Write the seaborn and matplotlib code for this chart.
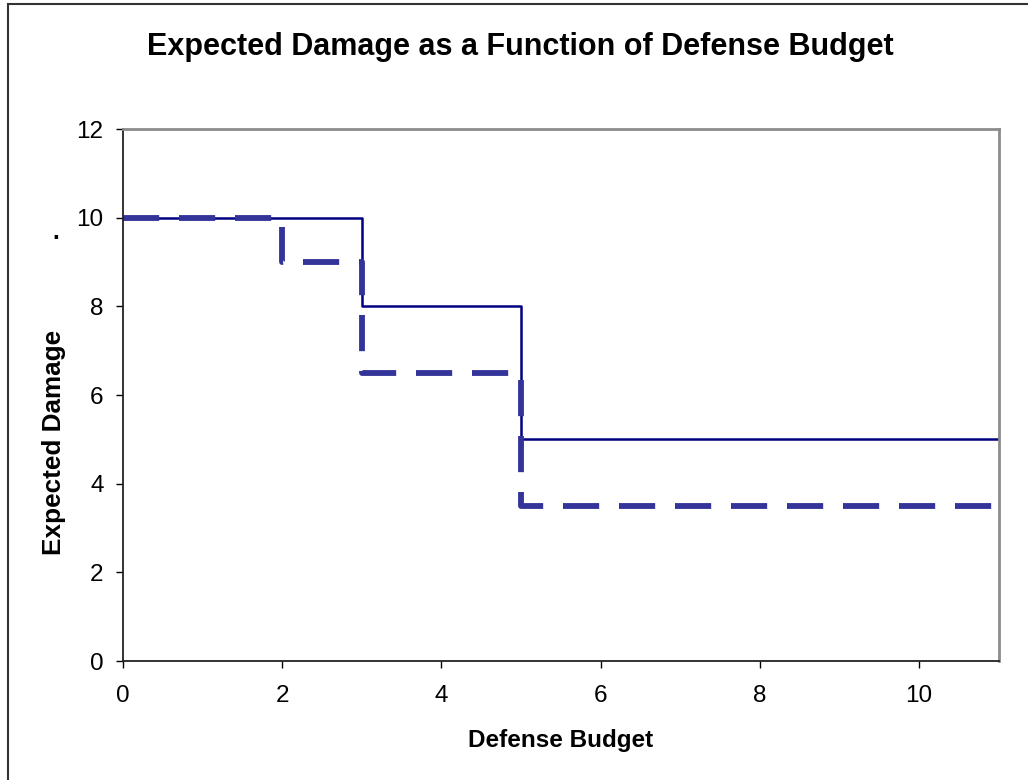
import numpy as np
import pandas as pd
import matplotlib
matplotlib.use("Agg")
import matplotlib.pyplot as plt
import seaborn as sns
from matplotlib.patches import Rectangle

# step data
budget_solid = [0, 3, 5, 11]
damage_solid = [10, 8, 5, 5]
budget_dashed = [0, 2, 3, 5, 11]
damage_dashed = [10, 9, 6.5, 3.5, 3.5]
x_ticks = [0, 2, 4, 6, 8, 10]
y_ticks = [0, 2, 4, 6, 8, 10, 12]

sns.set_theme(style="white")
plt.rcParams["font.family"] = ["Liberation Sans", "DejaVu Sans"]
plt.rcParams["text.color"] = "black"
plt.rcParams["axes.labelcolor"] = "black"
plt.rcParams["xtick.color"] = "black"
plt.rcParams["ytick.color"] = "black"

fig = plt.figure(figsize=(10.28, 7.8), dpi=100)
ax = fig.add_axes([123 / 1028, 1 - 661 / 780, 875.5 / 1028, 532 / 780])

df_s = pd.DataFrame({"Defense Budget": budget_solid, "Expected Damage": damage_solid})
df_d = pd.DataFrame({"Defense Budget": budget_dashed, "Expected Damage": damage_dashed})

sns.lineplot(data=df_s, x="Defense Budget", y="Expected Damage", ax=ax,
             drawstyle="steps-post", color="#000080", linewidth=1.8)
sns.lineplot(data=df_d, x="Defense Budget", y="Expected Damage", ax=ax,
             drawstyle="steps-post", color="#333399", linewidth=4.2,
             dashes=False)
ax.lines[-1].set_dashes([6.2, 3.4])
ax.lines[-1].set_dash_capstyle("butt")

ax.set_xlim(0, 11)
ax.set_ylim(0, 12)
ax.set_xticks(x_ticks)
ax.set_yticks(y_ticks)
ax.tick_params(axis="both", labelsize=17.5, direction="out", length=5, width=1,
               color="black", left=True, bottom=True)
ax.tick_params(axis="x", pad=12)
ax.tick_params(axis="y", pad=9)

for side in ["left", "bottom"]:
    ax.spines[side].set_color("#222222")
    ax.spines[side].set_linewidth(1.3)
for side in ["top", "right"]:
    ax.spines[side].set_color("#8c8c8c")
    ax.spines[side].set_linewidth(2)

ax.set_xlabel("Defense Budget", fontsize=17.5, fontweight="bold")
ax.xaxis.set_label_coords(0.5, -(740 - 661) / 532)
ax.xaxis.label.set_va("center")
ax.set_ylabel("Expected Damage", fontsize=18.8, fontweight="bold")
ax.yaxis.set_label_coords(-(123 - 54) / 875.5, (661 - 442) / 532)
ax.yaxis.label.set_va("center")
fig.text(56 / 1028, 1 - 239 / 780, ".", fontsize=17.5, fontweight="bold",
         ha="center", va="baseline")
fig.text(520 / 1028, 1 - 47 / 780,
         "Expected Damage as a Function of Defense Budget",
         fontsize=22, fontweight="bold", ha="center", va="center")

# outer chart border (runs off right/bottom edge)
fig.patches.append(Rectangle((7.5 / 1028, -0.02), 1.05, 1 - 4 / 780 + 0.02,
                             transform=fig.transFigure, fill=False,
                             edgecolor="#333333", linewidth=1.5))

fig.savefig("out.png", dpi=100)
